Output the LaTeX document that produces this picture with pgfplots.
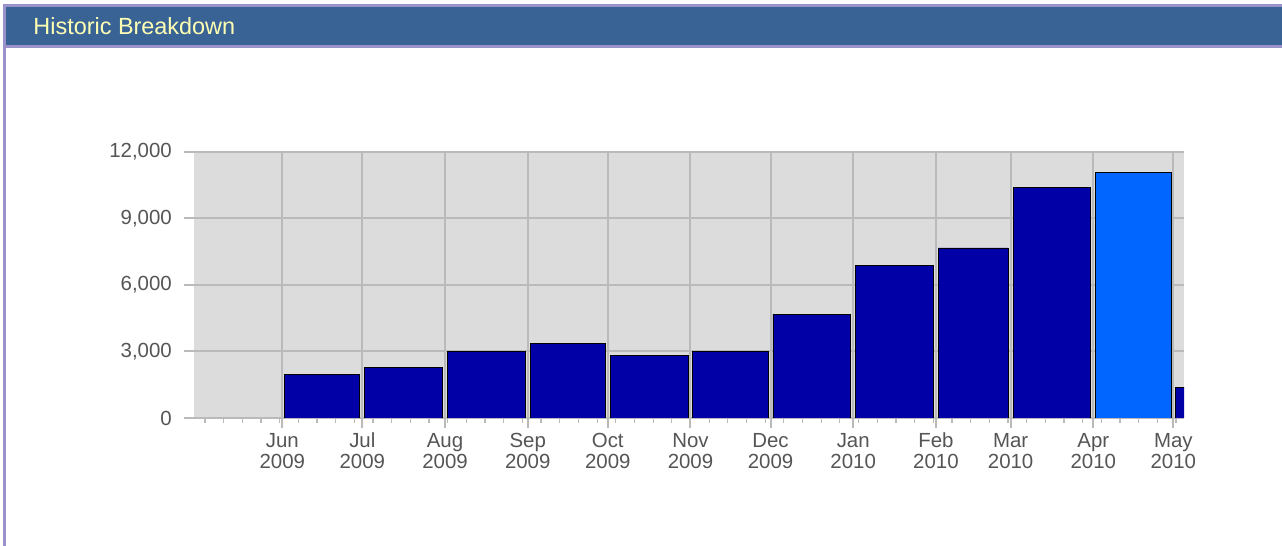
\documentclass[border=0pt]{standalone}
\usepackage{pgfplots}
\pgfplotsset{compat=1.18}
\usepackage{fontspec}
\setmainfont{Liberation Sans}
\definecolor{hdr}{HTML}{386394}
\definecolor{lav}{HTML}{9A93CB}
\definecolor{bgc}{HTML}{DCDCDC}
\definecolor{grd}{HTML}{BABABA}
\definecolor{barc}{HTML}{0000A6}
\definecolor{hi}{HTML}{0066FF}
\definecolor{lbl}{HTML}{555555}
\definecolor{ttl}{HTML}{FFFFB4}
\begin{document}
\begin{tikzpicture}[x=1bp,y=1bp]
\fill[white] (0,0) rectangle (1282,546);
\fill[lav] (3,498) rectangle (1282,542);
\fill[hdr] (6,501) rectangle (1282,539);
\fill[lav] (3,0) rectangle (6,542);
\node[anchor=base west, text=ttl, font=\fontsize{23.5}{28}\selectfont, inner sep=0pt] at (33.3,511) {Historic Breakdown};
\begin{axis}[
  at={(194bp,128bp)}, anchor=south west,
  scale only axis, width=990bp, height=266bp,
  xmin=-33.1, xmax=338, ymin=0, ymax=12000,
  axis background/.style={fill=bgc},
  axis line style={draw=none},
  xtick={0,30,61,92,122,153,183,214,245,273,304,334},
  xticklabels={\strut Jun\\2009,\strut Jul\\2009,\strut Aug\\2009,\strut Sep\\2009,\strut Oct\\2009,\strut Nov\\2009,\strut Dec\\2009,\strut Jan\\2010,\strut Feb\\2010,\strut Mar\\2010,\strut Apr\\2010,\strut May\\2010},
  minor xtick={-29,-22,...,335},
  ytick={0,3000,6000,9000,12000},
  grid=major, major grid style={grd, line width=2bp},
  tick align=outside, major tick length=10bp, minor tick length=5bp,
  every major tick/.style={grd, line width=2bp},
  every minor tick/.style={grd, line width=1.2bp},
  xtick pos=bottom, ytick pos=left,
  ticklabel style={font=\fontsize{20.5}{21.5}\selectfont, text=lbl},
  xticklabel style={align=center, anchor=north, inner sep=0pt, yshift=-4bp},
  yticklabel style={/pgf/number format/1000 sep={,}, anchor=east, inner sep=0pt, xshift=-12bp},
  /pgf/number format/assume math mode=true,
  scaled y ticks=false,
]
\addplot[ybar interval, /pgf/bar interval width=0.94, /pgf/bar interval shift=0.5, fill=barc, draw=black, line width=0.9bp] coordinates {(0,1950) (30,2300) (61,3020) (92,3380) (122,2800) (153,3020) (183,4690) (214,6860) (245,7670) (273,10380) (304,11085) (334,1370) (365,1370)};
\addplot[ybar interval, /pgf/bar interval width=0.94, /pgf/bar interval shift=0.5, fill=hi, draw=black, line width=0.9bp] coordinates {(304,11085) (334,11085)};
\end{axis}
\end{tikzpicture}
\end{document}
